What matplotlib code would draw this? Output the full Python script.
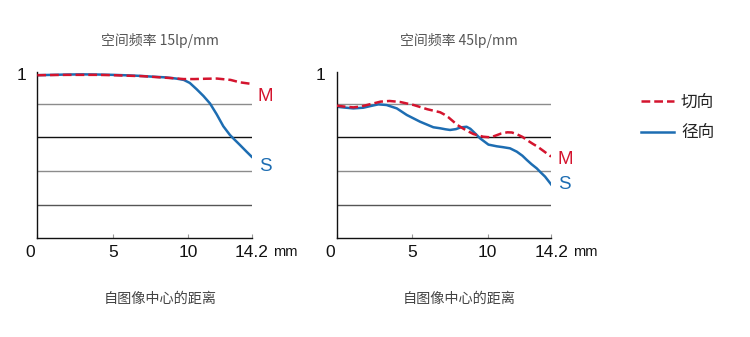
import matplotlib
matplotlib.use("Agg")
import matplotlib.pyplot as plt
from matplotlib.transforms import ScaledTranslation, blended_transform_factory

plt.rcParams['font.family'] = ['Noto Sans CJK SC', 'DejaVu Sans']

# MTF readings: image height (mm) vs contrast
x15_m = [0, 1, 2, 3, 4, 5, 6, 7, 8, 9, 9.7, 10.4, 11.2, 11.9, 12.8, 13.4, 14.2]
y15_m = [0.968, 0.969, 0.970, 0.970, 0.970, 0.968, 0.965, 0.962, 0.956, 0.950, 0.945, 0.945, 0.947, 0.948, 0.940, 0.926, 0.916]
x15_s = [0, 1, 2, 3, 4, 5, 6, 6.8, 7.5, 8.5, 9.2, 9.7, 10.1, 10.55, 11.0, 11.44, 11.88, 12.32, 12.76, 12.98, 13.42, 13.86, 14.2]
y15_s = [0.968, 0.970, 0.972, 0.973, 0.972, 0.970, 0.967, 0.964, 0.960, 0.955, 0.948, 0.940, 0.922, 0.885, 0.845, 0.800, 0.736, 0.665, 0.613, 0.593, 0.554, 0.514, 0.484]

x45_m = [0, 0.5, 1.1, 1.6, 2.0, 2.5, 2.9, 3.5, 4.2, 5.1, 6.0, 6.85, 7.1, 7.4, 7.7, 8.0, 8.4, 8.7, 9.05, 9.4, 9.7, 10.2, 10.6, 10.9, 11.3, 11.6, 11.9, 12.3, 12.6, 13.0, 13.3, 13.7, 14.2]
y45_m = [0.787, 0.782, 0.777, 0.782, 0.791, 0.802, 0.811, 0.815, 0.809, 0.791, 0.766, 0.748, 0.736, 0.718, 0.695, 0.672, 0.650, 0.635, 0.619, 0.610, 0.603, 0.599, 0.612, 0.622, 0.629, 0.628, 0.619, 0.602, 0.583, 0.560, 0.544, 0.518, 0.485]
x45_s = [0, 0.5, 1.1, 1.76, 2.3, 2.76, 3.3, 3.98, 4.64, 5.52, 6.4, 6.85, 7.2, 7.51, 7.9, 8.2, 8.6, 8.85, 9.05, 9.5, 10.05, 10.6, 11.0, 11.48, 11.93, 12.3, 12.59, 12.9, 13.25, 13.5, 13.8, 14.2]
y45_s = [0.781, 0.776, 0.771, 0.775, 0.786, 0.795, 0.791, 0.771, 0.732, 0.692, 0.659, 0.653, 0.647, 0.643, 0.648, 0.658, 0.662, 0.650, 0.633, 0.593, 0.556, 0.546, 0.541, 0.534, 0.514, 0.490, 0.465, 0.440, 0.415, 0.392, 0.366, 0.320]

x_ticks = [0, 5, 10, 14.2]
x_tick_labels = ['0', '5', '10', '14.2']
grid_levels = [0.2, 0.4, 0.6, 0.8]
grid_colors = ['#555555', '#8c8c8c', '#111111', '#8c8c8c']

panel_titles = ['空间频率 15lp/mm', '空间频率 45lp/mm']
x_label = '自图像中心的距离'
legend_labels = ['切向', '径向']

RED = '#d4142e'
BLUE = '#1d6db2'
NUM_FONT = 'Liberation Sans'

fig = plt.figure(figsize=(7.5, 3.37), dpi=100)
W, H = 750, 337

panels = [
    dict(left=37.3, title=panel_titles[0], xm=x15_m, ym=y15_m, xs=x15_s, ys=y15_s,
         m_y=0.839, s_y=0.429),
    dict(left=336.7, title=panel_titles[1], xm=x45_m, ym=y45_m, xs=x45_s, ys=y45_s,
         m_y=0.465, s_y=0.322),
]

handles = None
for p in panels:
    ax = fig.add_axes([p['left'] / W, 1 - 238.3 / H, 214.4 / W, 168.5 / H])
    ax.set_xlim(0, 14.2)
    ax.set_ylim(0, 1)
    for lvl, c in zip(grid_levels, grid_colors):
        ax.axhline(lvl, color=c, lw=1.0, zorder=1)
    for side in ('top', 'right'):
        ax.spines[side].set_visible(False)
    for side in ('left', 'bottom'):
        ax.spines[side].set_color('#111111')
        ax.spines[side].set_linewidth(1.0)
    ax.spines['left'].set_bounds(0, 0.985)

    lm, = ax.plot(p['xm'], p['ym'], color=RED, lw=1.8, ls=(0, (3.5, 1.6)), zorder=3)
    ls_, = ax.plot(p['xs'], p['ys'], color=BLUE, lw=1.8, zorder=2)
    handles = [lm, ls_]

    ax.set_xticks(x_ticks)
    ax.set_xticklabels(x_tick_labels, family=NUM_FONT, fontsize=12.5, color='#111111')
    ax.tick_params(axis='x', direction='in', length=3, width=0.8, color='#999999', pad=4.5)
    ax.set_yticks([1])
    ax.set_yticklabels(['1'], family=NUM_FONT, fontsize=12.5, color='#111111')
    ax.tick_params(axis='y', length=0, pad=8)
    ylab = ax.get_yticklabels()[0]
    ylab.set_transform(ylab.get_transform() + ScaledTranslation(0, -4 / 100, fig.dpi_scale_trans))
    zero = ax.get_xticklabels()[0]
    zero.set_transform(zero.get_transform() + ScaledTranslation(-7 / 100, 0, fig.dpi_scale_trans))

    # unit after the last tick, sharing its baseline
    tr = blended_transform_factory(ax.transData, ax.transAxes)
    ax.text(14.2, 0, 'mm', family=NUM_FONT, fontsize=10.5, color='#111111',
            transform=tr + ScaledTranslation(21.5 / 100, -17.7 / 100, fig.dpi_scale_trans),
            ha='left', va='baseline')

    # curve names at the right end
    ax.text(14.2, p['m_y'], 'M', family=NUM_FONT, fontsize=13.5, color=RED,
            transform=tr + ScaledTranslation(6 / 100, 0, fig.dpi_scale_trans),
            ha='left', va='center')
    ax.text(14.2, p['s_y'], 'S', family=NUM_FONT, fontsize=13.5, color=BLUE,
            transform=tr + ScaledTranslation(7 / 100, 0, fig.dpi_scale_trans),
            ha='left', va='center')

    cx = (p['left'] + 122.5) / W
    fig.text(cx, 1 - 41 / H, p['title'], ha='center', va='center', fontsize=10, color='#555555')
    fig.text(cx, 1 - 299 / H, x_label, ha='center', va='center', fontsize=10.2, color='#444444')

fig.legend(handles, legend_labels, loc='upper left', bbox_to_anchor=(641 / W, 1 - 94 / H),
           frameon=False, fontsize=12, handlelength=1.95, handletextpad=0.45,
           labelspacing=0.8, borderpad=0, borderaxespad=0, labelcolor='#222222')

fig.savefig('out.png', dpi=100, facecolor='white')
